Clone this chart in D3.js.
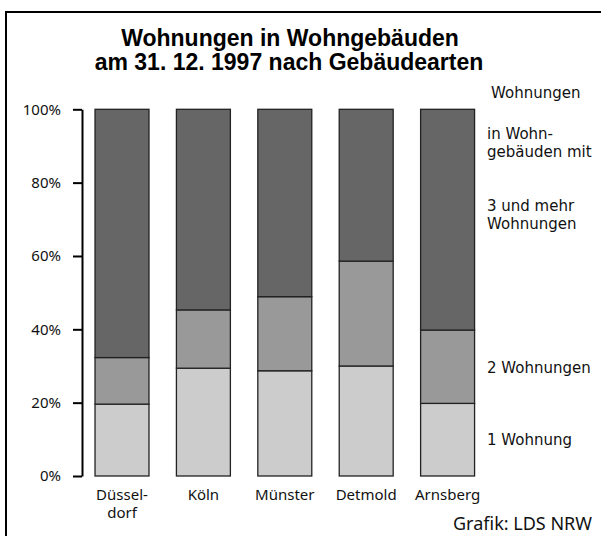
<!DOCTYPE html>
<html>
<head>
<meta charset="utf-8">
<script src="https://cdn.jsdelivr.net/npm/d3@7"></script>
<style>
  body { margin: 0; background: #fff; }
  svg { display: block; }
  .txt { font-family: "Noto Sans", "Open Sans", sans-serif; font-size: 15px; fill: #111; }
  .legend { font-family: "DejaVu Sans", sans-serif; font-size: 15px; }
  .title { font-family: "Liberation Sans", Arial, sans-serif; font-weight: bold; font-size: 23px; fill: #000; }
</style>
</head>
<body>
<svg id="chart" width="601" height="536"></svg>
<script>
// Regierungsbezirke NRW, Anteile in %
const categories = ["Düsseldorf", "Köln", "Münster", "Detmold", "Arnsberg"];
const categoryLabels = [["Düssel-", "dorf"], ["Köln"], ["Münster"], ["Detmold"], ["Arnsberg"]];
const einWohnung = [19.6, 29.4, 28.7, 30.0, 19.8];
const zweiWohnungen = [12.7, 15.9, 20.2, 28.6, 20.0];
const dreiUndMehr = [67.7, 54.7, 51.1, 41.4, 60.2];
const yTicks = [0, 20, 40, 60, 80, 100];

const seriesKeys = ["eins", "zwei", "drei"];
const colors = { eins: "#cccccc", zwei: "#999999", drei: "#666666" };

const rows = categories.map((c, i) => ({
  name: c,
  eins: einWohnung[i],
  zwei: zweiWohnungen[i],
  drei: dreiUndMehr[i]
}));

const svg = d3.select("#chart");

// frame (right and bottom edge lie outside the picture)
svg.append("rect")
  .attr("x", 6).attr("y", 12)
  .attr("width", 700).attr("height", 700)
  .attr("fill", "none")
  .attr("stroke", "#000")
  .attr("stroke-width", 2);

// title
const title = svg.append("text").attr("class", "title").attr("text-anchor", "middle");
title.append("tspan").attr("x", 290).attr("y", 46).text("Wohnungen in Wohngebäuden");
title.append("tspan").attr("x", 289).attr("y", 70).text("am 31. 12. 1997 nach Gebäudearten");

const x = d3.scaleBand()
  .domain(categories)
  .range([82, 487.6])
  .paddingInner(0.337)
  .paddingOuter(0.16);

const y = d3.scaleLinear().domain([0, 100]).range([476, 109.3]);

const stacked = d3.stack().keys(seriesKeys)(rows);

svg.append("g")
  .selectAll("g")
  .data(stacked)
  .join("g")
  .attr("fill", d => colors[d.key])
  .selectAll("rect")
  .data(d => d)
  .join("rect")
  .attr("x", d => x(d.data.name))
  .attr("y", d => y(d[1]))
  .attr("width", x.bandwidth())
  .attr("height", d => y(d[0]) - y(d[1]))
  .attr("stroke", "#222")
  .attr("stroke-width", 1.3);

// y axis
const yAxis = svg.append("g")
  .attr("transform", "translate(82,0)")
  .call(d3.axisLeft(y).tickValues(yTicks).tickFormat(d => d + "%").tickSize(9).tickSizeOuter(0).tickPadding(12));
yAxis.attr("font-family", null).attr("font-size", null);
yAxis.select(".domain").attr("stroke", "#000").attr("stroke-width", 2);
yAxis.selectAll(".tick line").attr("stroke", "#000").attr("stroke-width", 2);
yAxis.selectAll(".tick text").attr("class", "txt").attr("fill", "#111");

// category labels
const xl = svg.append("g").selectAll("text")
  .data(categories)
  .join("text")
  .attr("class", "txt")
  .attr("text-anchor", "middle");
xl.each(function (c, i) {
  const t = d3.select(this);
  categoryLabels[i].forEach((line, k) => {
    t.append("tspan")
      .attr("x", x(c) + x.bandwidth() / 2)
      .attr("y", 500 + k * 18)
      .text(line);
  });
});

// legend
const legendLines = [
  ["Wohnungen", 98, 491],
  ["in Wohn-", 139, 487],
  ["gebäuden mit", 157, 487],
  ["3 und mehr", 211, 487],
  ["Wohnungen", 229, 487],
  ["2 Wohnungen", 373, 487],
  ["1 Wohnung", 445, 487]
];
svg.append("g").selectAll("text")
  .data(legendLines)
  .join("text")
  .attr("class", "txt legend")
  .attr("x", d => d[2])
  .attr("y", d => d[1])
  .text(d => d[0]);

svg.append("text")
  .attr("class", "txt")
  .attr("x", 592).attr("y", 530)
  .attr("text-anchor", "end")
  .style("font-size", "18px")
  .text("Grafik: LDS NRW");
</script>
</body>
</html>
